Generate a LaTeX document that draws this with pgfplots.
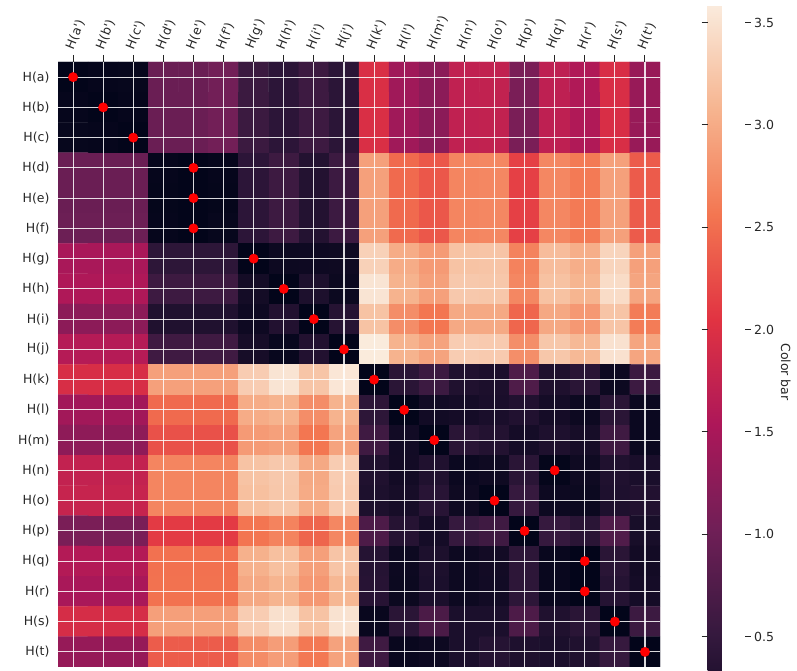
\documentclass[border=0pt]{standalone}
\usepackage{fontspec}
\setmainfont{DejaVu Sans}
\usepackage{pgfplots}
\usepackage{pgfplotstable}
\pgfplotsset{compat=1.18}
\newcommand{\q}{\textquotesingle}
\newcommand{\tf}{\fontsize{12.5}{15}\selectfont}
\definecolor{tk}{HTML}{262626}
\pgfplotstableread[row sep=\\]{
x y c\\
0 0 0.00\\1 0 0.03\\2 0 0.04\\3 0 0.97\\4 0 0.97\\5 0 1.04\\6 0 0.56\\7 0 0.42\\8 0 0.58\\9 0 0.41\\10 0 1.97\\11 0 1.43\\12 0 1.25\\13 0 1.72\\14 0 1.73\\15 0 1.11\\16 0 1.70\\17 0 1.57\\18 0 1.96\\19 0 1.36\\
0 1 0.03\\1 1 0.00\\2 1 0.03\\3 1 0.97\\4 1 0.97\\5 1 1.04\\6 1 0.56\\7 1 0.42\\8 1 0.58\\9 1 0.41\\10 1 1.97\\11 1 1.43\\12 1 1.25\\13 1 1.72\\14 1 1.73\\15 1 1.11\\16 1 1.70\\17 1 1.57\\18 1 1.96\\19 1 1.36\\
0 2 0.04\\1 2 0.03\\2 2 0.00\\3 2 0.97\\4 2 0.97\\5 2 1.04\\6 2 0.56\\7 2 0.42\\8 2 0.58\\9 2 0.41\\10 2 1.97\\11 2 1.43\\12 2 1.25\\13 2 1.72\\14 2 1.73\\15 2 1.11\\16 2 1.70\\17 2 1.57\\18 2 1.96\\19 2 1.36\\
0 3 0.97\\1 3 0.97\\2 3 0.97\\3 3 0.03\\4 3 0.00\\5 3 0.03\\6 3 0.42\\7 3 0.58\\8 3 0.33\\9 3 0.57\\10 3 2.91\\11 3 2.47\\12 3 2.32\\13 3 2.68\\14 3 2.70\\15 3 2.15\\16 3 2.70\\17 3 2.59\\18 3 2.91\\19 3 2.35\\
0 4 0.97\\1 4 0.97\\2 4 0.97\\3 4 0.02\\4 4 0.00\\5 4 0.02\\6 4 0.42\\7 4 0.58\\8 4 0.33\\9 4 0.57\\10 4 2.91\\11 4 2.47\\12 4 2.32\\13 4 2.68\\14 4 2.70\\15 4 2.15\\16 4 2.70\\17 4 2.59\\18 4 2.91\\19 4 2.35\\
0 5 0.99\\1 5 0.99\\2 5 0.99\\3 5 0.03\\4 5 0.00\\5 5 0.04\\6 5 0.42\\7 5 0.58\\8 5 0.33\\9 5 0.57\\10 5 2.91\\11 5 2.47\\12 5 2.32\\13 5 2.68\\14 5 2.70\\15 5 2.15\\16 5 2.70\\17 5 2.59\\18 5 2.91\\19 5 2.35\\
0 6 1.50\\1 6 1.50\\2 6 1.50\\3 6 0.43\\4 6 0.43\\5 6 0.43\\6 6 0.00\\7 6 0.10\\8 6 0.11\\9 6 0.12\\10 6 3.34\\11 6 3.01\\12 6 2.86\\13 6 3.21\\14 6 3.22\\15 6 2.66\\16 6 3.15\\17 6 3.02\\18 6 3.37\\19 6 2.91\\
0 7 1.56\\1 7 1.56\\2 7 1.56\\3 7 0.58\\4 7 0.58\\5 7 0.58\\6 7 0.17\\7 7 0.00\\8 7 0.27\\9 7 0.09\\10 7 3.52\\11 7 3.06\\12 7 2.91\\13 7 3.26\\14 7 3.25\\15 7 2.70\\16 7 3.20\\17 7 3.08\\18 7 3.44\\19 7 2.95\\
0 8 1.26\\1 8 1.26\\2 8 1.26\\3 8 0.30\\4 8 0.30\\5 8 0.30\\6 8 0.11\\7 8 0.32\\8 8 0.00\\9 8 0.36\\10 8 3.21\\11 8 2.75\\12 8 2.56\\13 8 2.98\\14 8 2.98\\15 8 2.44\\16 8 2.97\\17 8 2.84\\18 8 3.22\\19 8 2.61\\
0 9 1.61\\1 9 1.61\\2 9 1.61\\3 9 0.60\\4 9 0.60\\5 9 0.60\\6 9 0.20\\7 9 0.05\\8 9 0.32\\9 9 0.00\\10 9 3.58\\11 9 3.06\\12 9 2.93\\13 9 3.30\\14 9 3.28\\15 9 2.76\\16 9 3.25\\17 9 3.12\\18 9 3.49\\19 9 2.95\\
0 10 1.95\\1 10 1.95\\2 10 1.95\\3 10 2.91\\4 10 2.91\\5 10 2.91\\6 10 3.30\\7 10 3.52\\8 10 3.23\\9 10 3.54\\10 10 0.00\\11 10 0.40\\12 10 0.57\\13 10 0.30\\14 10 0.26\\15 10 0.74\\16 10 0.29\\17 10 0.40\\18 10 0.10\\19 10 0.57\\
0 11 1.44\\1 11 1.44\\2 11 1.44\\3 11 2.47\\4 11 2.47\\5 11 2.47\\6 11 3.01\\7 11 3.06\\8 11 2.75\\9 11 3.06\\10 11 0.43\\11 11 0.00\\12 11 0.15\\13 11 0.18\\14 11 0.24\\15 11 0.31\\16 11 0.18\\17 11 0.10\\18 11 0.40\\19 11 0.08\\
0 12 1.28\\1 12 1.28\\2 12 1.28\\3 12 2.28\\4 12 2.28\\5 12 2.28\\6 12 2.86\\7 12 2.91\\8 12 2.56\\9 12 2.93\\10 12 0.60\\11 12 0.15\\12 12 0.00\\13 12 0.40\\14 12 0.33\\15 12 0.18\\16 12 0.28\\17 12 0.20\\18 12 0.60\\19 12 0.08\\
0 13 1.74\\1 13 1.74\\2 13 1.74\\3 13 2.68\\4 13 2.68\\5 13 2.68\\6 13 3.21\\7 13 3.26\\8 13 2.98\\9 13 3.30\\10 13 0.30\\11 13 0.16\\12 13 0.30\\13 13 0.08\\14 13 0.12\\15 13 0.40\\16 13 0.02\\17 13 0.12\\18 13 0.30\\19 13 0.24\\
0 14 1.78\\1 14 1.78\\2 14 1.78\\3 14 2.68\\4 14 2.68\\5 14 2.68\\6 14 3.18\\7 14 3.25\\8 14 3.00\\9 14 3.28\\10 14 0.27\\11 14 0.20\\12 14 0.38\\13 14 0.12\\14 14 0.00\\15 14 0.52\\16 14 0.10\\17 14 0.09\\18 14 0.28\\19 14 0.32\\
0 15 1.11\\1 15 1.11\\2 15 1.11\\3 15 2.10\\4 15 2.10\\5 15 2.10\\6 15 2.55\\7 15 2.67\\8 15 2.43\\9 15 2.70\\10 15 0.72\\11 15 0.36\\12 15 0.18\\13 15 0.52\\14 15 0.60\\15 15 0.00\\16 15 0.52\\17 15 0.40\\18 15 0.75\\19 15 0.22\\
0 16 1.60\\1 16 1.60\\2 16 1.60\\3 16 2.52\\4 16 2.52\\5 16 2.52\\6 16 3.05\\7 16 3.18\\8 16 2.90\\9 16 3.22\\10 16 0.35\\11 16 0.10\\12 16 0.27\\13 16 0.10\\14 16 0.16\\15 16 0.43\\16 16 0.06\\17 16 0.00\\18 16 0.40\\19 16 0.16\\
0 17 1.50\\1 17 1.50\\2 17 1.50\\3 17 2.53\\4 17 2.53\\5 17 2.53\\6 17 2.97\\7 17 3.07\\8 17 2.83\\9 17 3.10\\10 17 0.37\\11 17 0.09\\12 17 0.25\\13 17 0.10\\14 17 0.15\\15 17 0.43\\16 17 0.06\\17 17 0.00\\18 17 0.35\\19 17 0.18\\
0 18 1.93\\1 18 1.93\\2 18 1.93\\3 18 2.90\\4 18 2.90\\5 18 2.90\\6 18 3.30\\7 18 3.48\\8 18 3.21\\9 18 3.50\\10 18 0.06\\11 18 0.40\\12 18 0.70\\13 18 0.25\\14 18 0.25\\15 18 0.72\\16 18 0.30\\17 18 0.40\\18 18 0.00\\19 18 0.57\\
0 19 1.34\\1 19 1.34\\2 19 1.34\\3 19 2.36\\4 19 2.36\\5 19 2.36\\6 19 2.74\\7 19 2.88\\8 19 2.58\\9 19 2.92\\10 19 0.60\\11 19 0.06\\12 19 0.10\\13 19 0.25\\14 19 0.35\\15 19 0.28\\16 19 0.25\\17 19 0.30\\18 19 0.52\\19 19 0.00\\
}\heat
\begin{document}
\begin{tikzpicture}[x=1pt,y=1pt]
\path[use as bounding box] (0,0) rectangle (797,671);
\clip (0,0) rectangle (797,671);
\begin{axis}[
  at={(58pt,4pt)}, anchor=south west,
  width=602pt, height=605pt, scale only axis,
  xmin=-0.5, xmax=19.5, ymin=-0.5, ymax=19.5,
  axis on top,
  axis line style={draw opacity=0},
  xtick={0,...,19}, ytick={0,...,19},
  xticklabels={},
  yticklabels={H(t),H(s),H(r),H(q),H(p),H(o),H(n),H(m),H(l),H(k),H(j),H(i),H(h),H(g),H(f),H(e),H(d),H(c),H(b),H(a)},
  major tick length=0pt,
  yticklabel style={font=\tf, text=tk, xshift=-5pt},
  grid=major,
  grid style={white, line width=1.1pt, opacity=0.85},
  colormap={rocket}{rgb255=(3,5,26) rgb255=(53,25,62) rgb255=(112,31,87) rgb255=(173,23,89) rgb255=(225,51,66) rgb255=(243,118,81) rgb255=(246,180,143) rgb255=(250,235,221)},
  point meta min=0, point meta max=3.586,
  colorbar,
  colorbar style={
    at={(parent axis.north east)}, anchor=north west, xshift=39pt, yshift=57pt,
    width=37pt, height=734pt, scale only axis,
    axis line style={draw opacity=0},
    grid=none,
    ytick={0.5,1.0,...,3.5},
    yticklabel style={font=\tf, text=tk, /pgf/number format/fixed, /pgf/number format/fixed zerofill, /pgf/number format/precision=1, /pgf/number format/assume math mode=true},
    ytick style={draw=tk, draw opacity=1, line width=1pt},
    major tick length=6pt,
    tick align=outside,
    ylabel={Color bar},
    ylabel style={rotate=180, font=\tf, text=tk},
  },
]
\addplot[matrix plot*, mesh/cols=20, point meta=explicit] table[x=x, y expr={19-\thisrow{y}}, meta=c] {\heat};
\end{axis}
\begin{axis}[
  at={(58pt,4pt)}, anchor=south west,
  width=602pt, height=605pt, scale only axis,
  xmin=-0.5, xmax=19.5, ymin=-0.5, ymax=19.5,
  clip=false,
  axis x line*=top, axis y line=none,
  x axis line style={draw=none, -},
  xtick={0,...,19},
  xticklabels={H(a\q),H(b\q),H(c\q),H(d\q),H(e\q),H(f\q),H(g\q),H(h\q),H(i\q),H(j\q),H(k\q),H(l\q),H(m\q),H(n\q),H(o\q),H(p\q),H(q\q),H(r\q),H(s\q),H(t\q)},
  xtick align=outside,
  major tick length=7pt,
  xtick style={draw=tk, line width=1pt},
  xticklabel style={xshift=2pt, yshift=4pt, rotate=68, anchor=south west, inner sep=0pt, font=\tf, text=tk},
]
\pgfplotsinvokeforeach{0,...,19}{\draw[tk, line width=1pt] (axis cs:#1,19.5) -- ++(0pt,7pt);}
\addplot[only marks, mark=*, mark size=4.7pt, mark options={fill=red, draw=red}] coordinates {
(0,19) (1,18) (2,17) (4,16) (4,15) (4,14) (6,13) (7,12) (8,11) (9,10)
(10,9) (11,8) (12,7) (16,6) (14,5) (15,4) (17,3) (17,2) (18,1) (19,0)
};
\end{axis}
\end{tikzpicture}
\end{document}
